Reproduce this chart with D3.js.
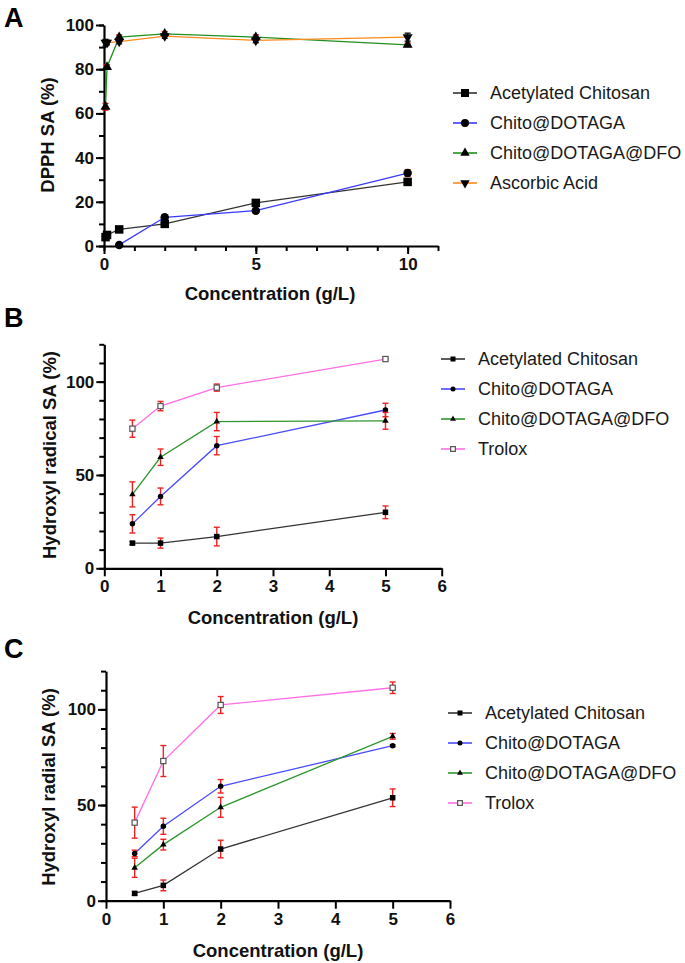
<!DOCTYPE html>
<html>
<head>
<meta charset="utf-8">
<title>Scavenging activity</title>
<script src="https://cdn.jsdelivr.net/npm/d3@7"></script>
<style>
  body { margin: 0; background: #fff; }
  svg text { font-family: Arial, "Liberation Sans", sans-serif; }
  .tick text { font-weight: bold; font-size: 17px; fill: #111; }
  .axtitle { font-weight: bold; font-size: 18.5px; fill: #111; }
  .letter { font-weight: bold; font-size: 27px; fill: #000; }
  .leg { font-size: 18px; fill: #1a1a1a; }
</style>
</head>
<body>
<svg id="fig" width="685" height="963"></svg>
<script>
// ---- data ----
var namesA = ["Acetylated Chitosan", "Chito@DOTAGA", "Chito@DOTAGA@DFO", "Ascorbic Acid"];
var namesBC = ["Acetylated Chitosan", "Chito@DOTAGA", "Chito@DOTAGA@DFO", "Trolox"];

// panel A (DPPH)
var concA = [0.05, 0.1, 0.5, 2, 5, 10];
var aAcetyl = [4, 5, 7.5, 10, 19.5, 29];
var aAcetylErr = [1, 1, 0.5, 1, 1, 1];
var aDotaga = [null, null, 0.5, 13, 16, 33];
var aDotagaErr = [0, 0, 0.5, 1, 1, 1.5];
var aDfo = [63, 81, 94.5, 96, 94.5, 91];
var aDfoErr = [1.5, 1, 1, 1, 1, 0.8];
var aAsc = [92, 92, 92.5, 95, 93, 94.5];
var aAscErr = [1.5, 1, 1, 1, 1, 1.8];

// panel B (hydroxyl radical)
var concB = [0.5, 1, 2, 5];
var bAcetyl = [13.5, 13.5, 17, 30];
var bAcetylErr = [0.8, 2.7, 5, 3.4];
var bDotaga = [23.8, 38.5, 65.7, 84.8];
var bDotagaErr = [4.9, 4.5, 4.9, 3.6];
var bDfo = [39.6, 59.5, 78.6, 79];
var bDfoErr = [6.7, 4.4, 4.9, 4.5];
var bTrolox = [74.8, 86.9, 96.8, 112.1];
var bTroloxErr = [4.6, 2.5, 1.9, 0.5];

// panel C (hydroxyl radial)
var concC = [0.5, 1, 2, 5];
var cAcetyl = [3.8, 8, 27, 53.8];
var cAcetylErr = [1, 2.8, 4.6, 4.6];
var cDotaga = [24.7, 38.9, 59.8, 81];
var cDotagaErr = [1.7, 4.2, 3.5, 0.5];
var cDfo = [17.2, 29.3, 48.8, 85.9];
var cDfoErr = [5, 2.8, 5.2, 1.5];
var cTrolox = [40.8, 73, 102.3, 111.3];
var cTroloxErr = [8.1, 8.1, 4.4, 3];

var xTicksA = [0, 5, 10];
var yTicksA = [0, 20, 40, 60, 80, 100];
var xTicksBC = [0, 1, 2, 3, 4, 5, 6];
var yTicksBC = [0, 50, 100];

var svg = d3.select("#fig");
var fmt = d3.format("d");

function drawPanel(p) {
  var g = svg.append("g");
  var x = d3.scaleLinear().domain(p.xdom).range(p.xr);
  var y = d3.scaleLinear().domain(p.ydom).range(p.yr);

  // minor ticks
  var xminor = d3.axisBottom(x).tickValues(p.xminor).tickSize(5).tickFormat("");
  var yminor = d3.axisLeft(y).tickValues(p.yminor).tickSize(5).tickFormat("");
  g.append("g").attr("transform", "translate(0," + p.yr[0] + ")").call(xminor)
    .call(function (a) { a.select(".domain").remove(); a.selectAll("line").attr("stroke-width", 2); });
  g.append("g").attr("transform", "translate(" + p.xr[0] + ",0)").call(yminor)
    .call(function (a) { a.select(".domain").remove(); a.selectAll("line").attr("stroke-width", 2); });

  var xa = d3.axisBottom(x).tickValues(p.xticks).tickFormat(fmt).tickSize(8).tickSizeOuter(0).tickPadding(4);
  var ya = d3.axisLeft(y).tickValues(p.yticks).tickFormat(fmt).tickSize(8).tickSizeOuter(0).tickPadding(2);
  g.append("g").attr("transform", "translate(0," + p.yr[0] + ")").call(xa)
    .call(function (a) { a.select(".domain").attr("stroke-width", 2.2); a.selectAll("line").attr("stroke-width", 2); });
  g.append("g").attr("transform", "translate(" + p.xr[0] + ",0)").call(ya)
    .call(function (a) { a.select(".domain").attr("stroke-width", 2.2); a.selectAll("line").attr("stroke-width", 2); });

  // titles
  g.append("text").attr("class", "axtitle").attr("text-anchor", "middle")
    .attr("x", p.xtitle[0]).attr("y", p.xtitle[1]).text("Concentration (g/L)");
  g.append("text").attr("class", "axtitle").attr("text-anchor", "middle")
    .attr("transform", "translate(" + p.ytitle[0] + "," + p.ytitle[1] + ") rotate(-90)")
    .text(p.ylabel);
  g.append("text").attr("class", "letter").attr("x", p.letter[0]).attr("y", p.letter[1]).text(p.name);

  var line = d3.line().defined(function (d) { return d.v != null; })
    .x(function (d) { return x(d.c); }).y(function (d) { return y(d.v); });

  p.series.forEach(function (s) {
    var pts = p.conc.map(function (c, i) { return { c: c, v: s.vals[i], e: s.err[i] }; });
    g.append("path").datum(pts).attr("d", line).attr("fill", "none")
      .attr("stroke", s.color).attr("stroke-width", p.lw);
    var ok = pts.filter(function (d) { return d.v != null; });
    // error bars
    var eb = g.append("g").attr("stroke", s.ecolor).attr("stroke-width", 1.4);
    ok.forEach(function (d) {
      if (d.e <= 0) return;
      var cx = x(d.c), y1 = y(d.v - d.e), y2 = y(d.v + d.e);
      eb.append("line").attr("x1", cx).attr("x2", cx).attr("y1", y1).attr("y2", y2);
      eb.append("line").attr("x1", cx - 3).attr("x2", cx + 3).attr("y1", y1).attr("y2", y1);
      eb.append("line").attr("x1", cx - 3).attr("x2", cx + 3).attr("y1", y2).attr("y2", y2);
    });
    ok.forEach(function (d) { marker(g, s.shape, x(d.c), y(d.v), p.ms); });
  });

  // legend
  p.series.forEach(function (s, i) {
    var ly = p.leg[1] + i * 30;
    g.append("line").attr("x1", p.leg[0]).attr("x2", p.leg[0] + 24).attr("y1", ly).attr("y2", ly)
      .attr("stroke", s.color).attr("stroke-width", 1.6);
    marker(g, s.shape, p.leg[0] + 12, ly, p.lms);
    g.append("text").attr("class", "leg").attr("x", p.leg[0] + 37).attr("y", ly + 6).text(s.name);
  });
}

function marker(g, shape, cx, cy, sz) {
  if (shape === "square") {
    g.append("rect").attr("x", cx - sz / 2).attr("y", cy - sz / 2).attr("width", sz).attr("height", sz).attr("fill", "#000");
  } else if (shape === "circle") {
    g.append("circle").attr("cx", cx).attr("cy", cy).attr("r", sz / 2).attr("fill", "#000");
  } else if (shape === "up") {
    g.append("path").attr("d", d3.symbol(d3.symbolTriangle, sz * sz * 0.6)()).attr("transform", "translate(" + cx + "," + cy + ")").attr("fill", "#000");
  } else if (shape === "down") {
    g.append("path").attr("d", d3.symbol(d3.symbolTriangle, sz * sz * 0.6)()).attr("transform", "translate(" + cx + "," + cy + ") rotate(180)").attr("fill", "#000");
  } else if (shape === "open") {
    var s = sz * 0.95;
    g.append("rect").attr("x", cx - s / 2).attr("y", cy - s / 2).attr("width", s).attr("height", s)
      .attr("fill", "#fff").attr("stroke", "#555").attr("stroke-width", 1.2);
  }
}

drawPanel({
  name: "A", letter: [4, 27],
  xdom: [0, 11], xr: [104, 438], ydom: [0, 100], yr: [246, 25],
  xticks: xTicksA, yticks: yTicksA,
  xminor: d3.range(0, 12, 1), yminor: d3.range(0, 101, 10),
  xtitle: [270, 300], ytitle: [54, 135], ylabel: "DPPH SA (%)",
  conc: concA, lw: 1.3, ms: 8.5, lms: 8, leg: [453, 93],
  series: [
    { name: namesA[0], vals: aAcetyl, err: aAcetylErr, color: "#333", ecolor: "#e00", shape: "square" },
    { name: namesA[1], vals: aDotaga, err: aDotagaErr, color: "#3a3aff", ecolor: "#e00", shape: "circle" },
    { name: namesA[2], vals: aDfo, err: aDfoErr, color: "#1f8f1f", ecolor: "#e00", shape: "up" },
    { name: namesA[3], vals: aAsc, err: aAscErr, color: "#ff8a1a", ecolor: "#111", shape: "down" }
  ]
});

drawPanel({
  name: "B", letter: [4, 327],
  xdom: [0, 6], xr: [104.3, 441.7], ydom: [0, 120], yr: [568.3, 344.3],
  xticks: xTicksBC, yticks: yTicksBC,
  xminor: [], yminor: d3.range(0, 121, 10),
  xtitle: [273, 624], ytitle: [56, 455], ylabel: "Hydroxyl radical SA (%)",
  conc: concB, lw: 1.3, ms: 5.5, lms: 5, leg: [441, 359],
  series: [
    { name: namesBC[0], vals: bAcetyl, err: bAcetylErr, color: "#333", ecolor: "#e22", shape: "square" },
    { name: namesBC[1], vals: bDotaga, err: bDotagaErr, color: "#4a4aff", ecolor: "#e22", shape: "circle" },
    { name: namesBC[2], vals: bDfo, err: bDfoErr, color: "#2e962e", ecolor: "#e22", shape: "up" },
    { name: namesBC[3], vals: bTrolox, err: bTroloxErr, color: "#ff6ee6", ecolor: "#e22", shape: "open" }
  ]
});

drawPanel({
  name: "C", letter: [4, 658],
  xdom: [0, 6], xr: [106, 450], ydom: [0, 120], yr: [900.7, 671.1],
  xticks: xTicksBC, yticks: yTicksBC,
  xminor: [], yminor: d3.range(0, 121, 10),
  xtitle: [278, 957], ytitle: [55, 787], ylabel: "Hydroxyl radial SA (%)",
  conc: concC, lw: 1.3, ms: 5.5, lms: 5, leg: [448, 713],
  series: [
    { name: namesBC[0], vals: cAcetyl, err: cAcetylErr, color: "#333", ecolor: "#e22", shape: "square" },
    { name: namesBC[1], vals: cDotaga, err: cDotagaErr, color: "#4a4aff", ecolor: "#e22", shape: "circle" },
    { name: namesBC[2], vals: cDfo, err: cDfoErr, color: "#2e962e", ecolor: "#e22", shape: "up" },
    { name: namesBC[3], vals: cTrolox, err: cTroloxErr, color: "#ff6ee6", ecolor: "#e22", shape: "open" }
  ]
});
</script>
</body>
</html>
